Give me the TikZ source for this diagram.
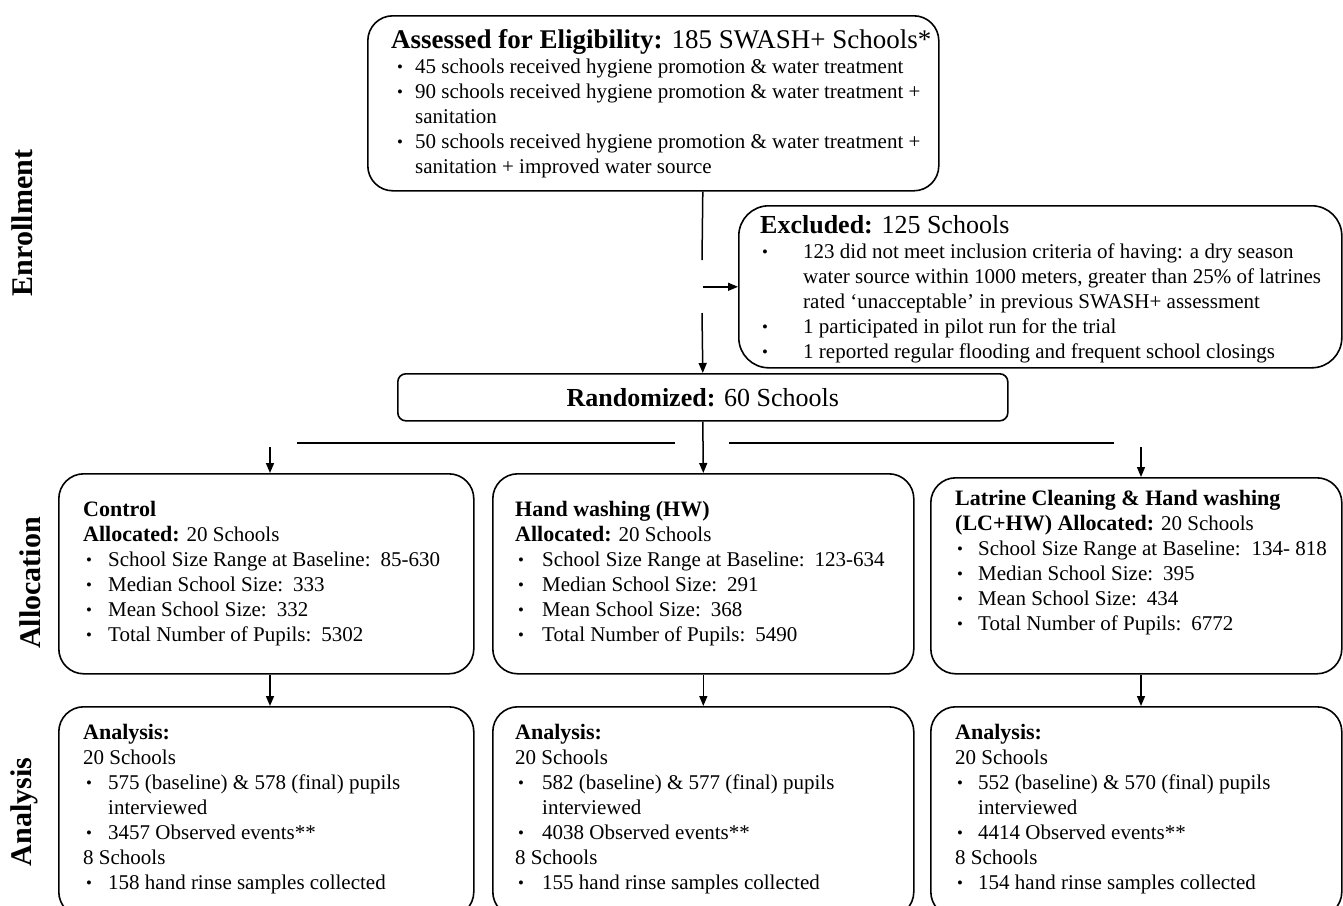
\documentclass[tikz,border=0pt]{standalone}
\usepackage{fontspec}
\setmainfont{Liberation Serif}
\usetikzlibrary{arrows.meta,positioning,calc}

\newcommand{\fcbody}{\fontsize{21}{25}\selectfont}
\newcommand{\fcbig}{\fontsize{26}{30}\selectfont}
\newcommand{\fchd}{\fontsize{22}{25}\selectfont\bfseries}
\newcommand{\fcdot}{\raisebox{0.5pt}{\scalebox{0.8}{\textbullet}}}
\newcommand{\fcbul}[2]{\hspace*{#1}\makebox[#2][l]{\fcdot}}
\newcommand{\fcgap}{\hspace{10pt}}

\tikzset{
  fcbox/.style   ={rectangle, rounded corners=25pt, draw=black, line width=1.6pt,
                   anchor=north west, inner sep=0pt},
  fctext/.style  ={anchor=base west, inner sep=0pt, align=left, font=\fcbody},
  fcarrow/.style ={-{Triangle[length=10pt,width=8pt]}, line width=1.5pt},
  fcline/.style  ={line width=1.5pt},
  fcrule/.style  ={line width=2.6pt},
  fcside/.style  ={rotate=90, font=\fontsize{30}{34}\selectfont\bfseries},
}

\begin{document}
\begin{tikzpicture}[x=1pt, y=-1pt]
  \useasboundingbox (0,0) rectangle (1343,905);
  \clip (0,0) rectangle (1343,905);
  \fill[white] (0,0) rectangle (1343,905);

  % stage labels
  \node[fcside] (lenrol) at (22,223) {Enrollment};
  \node[fcside] (lalloc) at (30,583) {Allocation};
  \node[fcside] (lanal)  at (24,812) {Analysis};

  % enrollment (text nodes sit on the baseline of their last line)
  \node[fcbox, minimum width=571pt, minimum height=175pt] (assess) at (367,15) {};
  \node[fctext] (assesstxt) at (391,173) {%
    {\fontsize{27}{25}\selectfont\textbf{Assessed for Eligibility:} 185 SWASH+ Schools*}\\
    \fcbul{6pt}{18pt}45 schools received hygiene promotion \& water treatment\\
    \fcbul{6pt}{18pt}90 schools received hygiene promotion \& water treatment +\\
    \hspace*{24pt}sanitation\\
    \fcbul{6pt}{18pt}50 schools received hygiene promotion \& water treatment +\\
    \hspace*{24pt}sanitation + improved water source};

  \node[fcbox, rounded corners=30pt, minimum width=603pt, minimum height=162pt] (excl) at (738,205) {};
  \node[fctext] (excltxt) at (760,358) {%
    {\fcbig\textbf{Excluded:} 125 Schools}\\
    \fcbul{2pt}{41pt}123 did not meet inclusion criteria of having: a dry season\\
    \hspace*{43pt}water source within 1000 meters, greater than 25\% of latrines\\
    \hspace*{43pt}rated `unacceptable' in previous SWASH+ assessment\\
    \fcbul{2pt}{41pt}1 participated in pilot run for the trial\\
    \fcbul{2pt}{41pt}1 reported regular flooding and frequent school closings};

  \node[fcbox, rounded corners=8pt, minimum width=610pt, minimum height=47pt, font=\fcbig]
       (rand) at (397,373) {\textbf{Randomized:} 60 Schools};

  % allocation
  \node[fcbox, minimum width=415pt, minimum height=200pt] (ctrl) at (58,473) {};
  \node[fcbox, minimum width=421pt, minimum height=200pt] (hw)   at (492,473) {};
  \node[fcbox, minimum width=411pt, minimum height=196pt] (lchw) at (930,477) {};

  \node[fctext] (ctrltxt) at (83,641) {%
    {\fchd Control}\\
    {\fchd Allocated:} 20 Schools\\
    \fcbul{3pt}{22pt}School Size Range at Baseline:\fcgap 85-630\\
    \fcbul{3pt}{22pt}Median School Size:\fcgap 333\\
    \fcbul{3pt}{22pt}Mean School Size:\fcgap 332\\
    \fcbul{3pt}{22pt}Total Number of Pupils:\fcgap 5302};
  \node[fctext] (hwtxt) at (515,641) {%
    {\fchd Hand washing (HW)}\\
    {\fchd Allocated:} 20 Schools\\
    \fcbul{3pt}{24pt}School Size Range at Baseline:\fcgap 123-634\\
    \fcbul{3pt}{24pt}Median School Size:\fcgap 291\\
    \fcbul{3pt}{24pt}Mean School Size:\fcgap 368\\
    \fcbul{3pt}{24pt}Total Number of Pupils:\fcgap 5490};
  \node[fctext] (lchwtxt) at (955,630) {%
    {\fchd Latrine Cleaning \& Hand washing}\\
    {\fchd (LC+HW) Allocated:} 20 Schools\\
    \fcbul{2pt}{21pt}School Size Range at Baseline:\hspace{4pt} 134- 818\\
    \fcbul{2pt}{21pt}Median School Size:\fcgap 395\\
    \fcbul{2pt}{21pt}Mean School Size:\fcgap 434\\
    \fcbul{2pt}{21pt}Total Number of Pupils:\fcgap 6772};

  % analysis
  \node[fcbox, minimum width=415pt, minimum height=210pt] (ctrla) at (58,706) {};
  \node[fcbox, minimum width=421pt, minimum height=210pt] (hwa)   at (492,706) {};
  \node[fcbox, minimum width=411pt, minimum height=210pt] (lchwa) at (930,706) {};

  \node[fctext] (ctrlatxt) at (83,889) {%
    {\fchd Analysis:}\\
    20 Schools\\
    \fcbul{3pt}{22pt}575 (baseline) \& 578 (final) pupils\\
    \hspace*{25pt}interviewed\\
    \fcbul{3pt}{22pt}3457 Observed events**\\
    8 Schools\\
    \fcbul{3pt}{22pt}158 hand rinse samples collected};
  \node[fctext] (hwatxt) at (515,889) {%
    {\fchd Analysis:}\\
    20 Schools\\
    \fcbul{3pt}{24pt}582 (baseline) \& 577 (final) pupils\\
    \hspace*{27pt}interviewed\\
    \fcbul{3pt}{24pt}4038 Observed events**\\
    8 Schools\\
    \fcbul{3pt}{24pt}155 hand rinse samples collected};
  \node[fctext] (lchwatxt) at (955,889) {%
    {\fchd Analysis:}\\
    20 Schools\\
    \fcbul{2pt}{21pt}552 (baseline) \& 570 (final) pupils\\
    \hspace*{23pt}interviewed\\
    \fcbul{2pt}{21pt}4414 Observed events**\\
    8 Schools\\
    \fcbul{2pt}{21pt}154 hand rinse samples collected};

  % connectors
  \coordinate (gapt) at (702,260);
  \coordinate (gapb) at (702,313);
  \draw[fcline] (rand.north |- assess.south) -- (gapt);
  \draw[fcarrow] (gapb) -- (rand.north);
  \draw[fcarrow] (rand.north |- excl.west) -- (excl.west);
  \draw[fcarrow] (rand.south) -- (hw.north);

  \coordinate (hlA) at (297,443);
  \coordinate (hlB) at (675,443);
  \coordinate (hlC) at (729,443);
  \coordinate (hlD) at (1114,443);
  \draw[fcrule] (hlA) -- (hlB);
  \draw[fcrule] (hlC) -- (hlD);

  \coordinate (ltop) at (270,447);
  \coordinate (rtop) at (1141,447);
  \draw[fcarrow] (ltop) -- (ltop |- ctrl.north);
  \draw[fcarrow] (rtop) -- (rtop |- lchw.north);
  \draw[fcarrow] (ltop |- ctrl.south) -- (ltop |- ctrla.north);
  \draw[fcarrow] (hw.south) -- (hwa.north);
  \draw[fcarrow] (rtop |- lchw.south) -- (rtop |- lchwa.north);
\end{tikzpicture}
\end{document}
